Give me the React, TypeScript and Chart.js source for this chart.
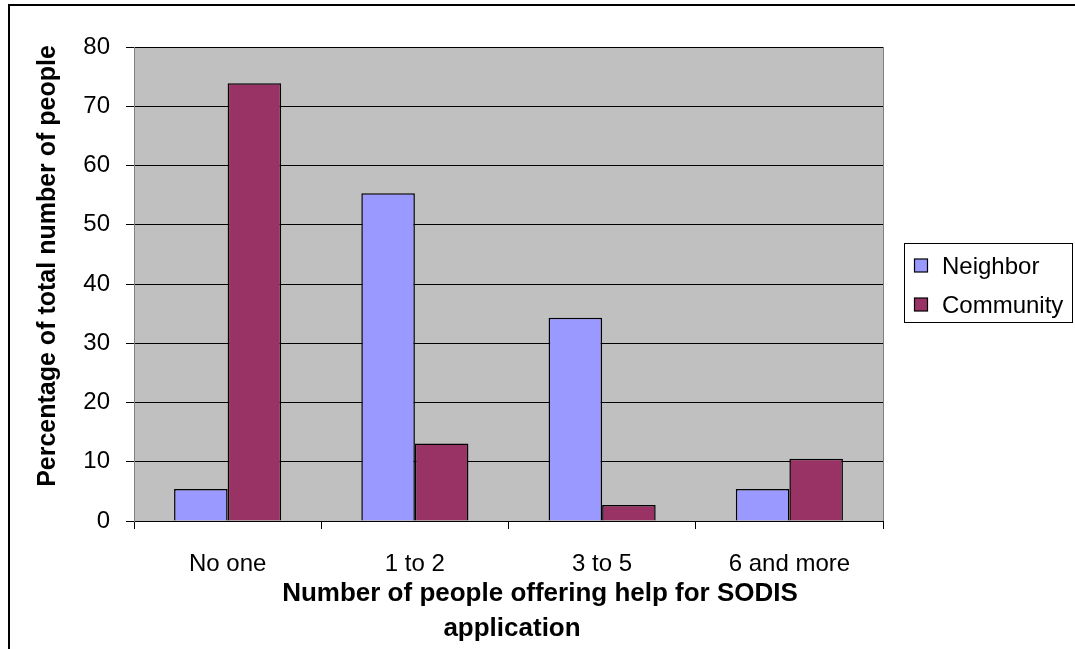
import React, { useEffect, useRef } from "react";
import { Chart, registerables } from "chart.js";

Chart.register(...registerables);

const categories = ["No one", "1 to 2", "3 to 5", "6 and more"];
const neighborValues = [5.4, 55.3, 34.3, 5.4];
const communityValues = [73.9, 13.1, 2.7, 10.5];
const seriesNames = ["Neighbor", "Community"];
const seriesColors = ["#9999FF", "#993366"];
const yMin = 0;
const yMax = 80;
const yStep = 10;
const xTitleLines = ["Number of people offering help for SODIS", "application"];
const yTitle = "Percentage of total number of people";

const FONT = "'Liberation Sans', Arial, Helvetica, sans-serif";

const decorPlugin = {
  id: "decor",
  beforeDraw(chart: any) {
    const { ctx, chartArea, width, height } = chart;
    ctx.save();
    ctx.fillStyle = "#FFFFFF";
    ctx.fillRect(0, 0, width, height);
    ctx.fillStyle = "#C0C0C0";
    ctx.fillRect(chartArea.left, chartArea.top, chartArea.right - chartArea.left, chartArea.bottom - chartArea.top);
    ctx.restore();
  },
  afterDraw(chart: any) {
    const { ctx, chartArea } = chart;
    ctx.save();
    // plot right border
    ctx.strokeStyle = "#808080";
    ctx.lineWidth = 1;
    ctx.beginPath();
    ctx.moveTo(Math.round(chartArea.right) + 0.5, chartArea.top);
    ctx.lineTo(Math.round(chartArea.right) + 0.5, chartArea.bottom);
    ctx.stroke();

    // outer frame (top and left)
    ctx.strokeStyle = "#000000";
    ctx.lineWidth = 2;
    ctx.beginPath();
    ctx.moveTo(9, 649);
    ctx.lineTo(9, 5);
    ctx.lineTo(1075, 5);
    ctx.stroke();

    // y title
    ctx.fillStyle = "#000000";
    ctx.font = `bold 25px ${FONT}`;
    ctx.textAlign = "center";
    ctx.textBaseline = "middle";
    ctx.save();
    ctx.translate(48, 266);
    ctx.rotate(-Math.PI / 2);
    ctx.fillText(yTitle, 0, 0);
    ctx.restore();

    // x title
    ctx.font = `bold 26px ${FONT}`;
    ctx.fillText(xTitleLines[0], 540, 594);
    ctx.fillText(xTitleLines[1], 512, 629);

    // legend
    const lx = 904, ly = 243, lw = 168, lh = 79;
    ctx.strokeStyle = "#000000";
    ctx.lineWidth = 1;
    ctx.strokeRect(lx + 0.5, ly + 0.5, lw, lh);
    ctx.font = `24px ${FONT}`;
    ctx.textAlign = "left";
    const rowsY = [266, 305];
    chart.data.datasets.forEach((ds: any, i: number) => {
      const y = rowsY[i];
      ctx.fillStyle = ds.backgroundColor;
      ctx.fillRect(914.5, y - 7, 13, 13);
      ctx.strokeStyle = "#000000";
      ctx.lineWidth = 1.2;
      ctx.strokeRect(914.5, y - 7, 13, 13);
      ctx.fillStyle = "#000000";
      ctx.fillText(ds.label, 942, y + 1);
    });
    ctx.restore();
  },
};

export default function App() {
  const canvasRef = useRef<HTMLCanvasElement | null>(null);

  useEffect(() => {
    if (!canvasRef.current) return;
    Chart.defaults.font.family = FONT;
    const chart = new Chart(canvasRef.current, {
      type: "bar",
      data: {
        labels: categories,
        datasets: [
          {
            label: seriesNames[0],
            data: neighborValues,
            backgroundColor: seriesColors[0],
            borderColor: "#000000",
            borderWidth: 1.5,
          },
          {
            label: seriesNames[1],
            data: communityValues,
            backgroundColor: seriesColors[1],
            borderColor: "#000000",
            borderWidth: 1.5,
          },
        ],
      },
      options: {
        responsive: false,
        animation: false,
        events: [],
        layout: { padding: { left: 0, top: 47, right: 192, bottom: 0 } },
        datasets: { bar: { barPercentage: 1, categoryPercentage: 0.572 } },
        plugins: {
          legend: { display: false },
          tooltip: { enabled: false },
          title: { display: false },
        },
        scales: {
          x: {
            offset: true,
            grid: {
              offset: true,
              drawOnChartArea: false,
              drawTicks: true,
              tickLength: 8,
              tickColor: "#000000",
            },
            border: { display: true, color: "#000000", width: 1 },
            ticks: {
              color: "#000000",
              font: { size: 24, family: FONT },
              padding: 21,
              maxRotation: 0,
              autoSkip: false,
            },
            afterFit(scale: any) {
              scale.height = 128;
            },
          },
          y: {
            min: yMin,
            max: yMax,
            ticks: {
              stepSize: yStep,
              color: "#000000",
              font: { size: 24, family: FONT },
              padding: 16,
            },
            grid: {
              color: "#000000",
              lineWidth: 1,
              drawTicks: true,
              tickLength: 8,
              tickColor: "#000000",
            },
            border: { display: true, color: "#808080", width: 1 },
            afterFit(scale: any) {
              scale.width = 134;
            },
          },
        },
      },
      plugins: [decorPlugin],
    });
    return () => chart.destroy();
  }, []);

  return (
    <div style={{ position: "absolute", left: 0, top: 0, width: 1075, height: 649 }}>
      <canvas ref={canvasRef} width={1075} height={649} />
    </div>
  );
}
